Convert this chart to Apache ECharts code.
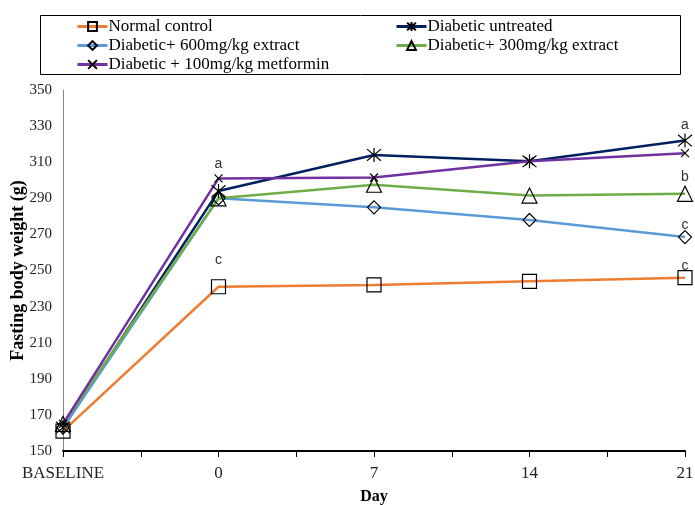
<!DOCTYPE html>
<html>
<head>
<meta charset="utf-8">
<script src="https://cdn.jsdelivr.net/npm/echarts@6/dist/echarts.min.js"></script>
<style>html,body{margin:0;padding:0;background:#fff;}#chart{width:695px;height:505px;}</style>
</head>
<body>
<div id="chart"></div>
<script>
// ---- data ----
const categories = ['BASELINE', '0', '7', '14', '21'];
const minorTickSlots = ['', '', '', '', '', '', '', '', ''];
const normalControl = [161, 241, 242, 244, 246];
const diabeticUntreated = [163, 294, 314, 310.5, 322];
const extract600 = [163, 290, 285, 278, 268.5];
const extract300 = [165, 290, 297.5, 291.5, 292.5];
const metformin100 = [165, 301, 301.5, 310.5, 315];
// significance letters per series (by category index)
const normalLetters = ['', 'c', '', '', 'c'];
const untreatedLetters = ['', '', '', '', 'a'];
const ext600Letters = ['', '', '', '', 'c'];
const ext300Letters = ['', '', '', '', 'b'];
const metforminLetters = ['', 'a', '', '', ''];
const seriesNames = ['Normal control', 'Diabetic untreated', 'Diabetic+ 600mg/kg extract', 'Diabetic+ 300mg/kg extract', 'Diabetic + 100mg/kg metformin'];

const serif = '"Liberation Serif", "Times New Roman", serif';
const sans = '"Liberation Sans", Arial, sans-serif';

function withLetters(values, letters, distances) {
  return values.map((v, i) => {
    if (!letters[i]) return v;
    return {
      value: v,
      label: {
        show: true, formatter: letters[i], position: 'top',
        distance: distances[i], offset: [0, 6], fontFamily: sans, fontSize: 14, color: '#333'
      }
    };
  });
}

const starPath = 'path://M1,1L11,11M11,1L1,11M6,0L6,12';
const xPath = 'path://M0,0L10,10M10,0L0,10';

function makeSeries(name, data, color, symbol, size) {
  return {
    name: name, type: 'line', data: data, color: color,
    symbol: symbol, symbolSize: size, showAllSymbol: true,
    lineStyle: { color: color, width: 2.5 },
    itemStyle: { color: 'none', borderColor: '#000', borderWidth: 1.2 },
    emphasis: { disabled: true },
    z: 3
  };
}

const chart = echarts.init(document.getElementById('chart'), null, { renderer: 'canvas' });

function legendItem(name, left, top) {
  return {
    data: [name], left: left, top: top, padding: 0,
    itemWidth: 30, itemHeight: 11, itemGap: 0,
    lineStyle: { width: 3 },
    textStyle: { fontFamily: serif, fontSize: 17, color: '#000', padding: [0, 0, 0, -4] },
    selectedMode: false
  };
}

const option = {
  animation: false,
  backgroundColor: '#fff',
  graphic: [{
    type: 'rect', shape: { x: 40.5, y: 15.5, width: 640, height: 59 },
    style: { fill: 'none', stroke: '#000', lineWidth: 1 }, silent: true
  }],
  legend: [
    legendItem(seriesNames[0], 76, 18),
    legendItem(seriesNames[1], 395, 18),
    legendItem(seriesNames[2], 76, 37),
    legendItem(seriesNames[3], 395, 37),
    legendItem(seriesNames[4], 76, 56)
  ],
  grid: { left: 63, right: 10, top: 90, bottom: 54, containLabel: false, outerBoundsMode: 'none' },
  xAxis: [{
    type: 'category', data: categories, boundaryGap: false,
    axisLine: { lineStyle: { color: '#000', width: 2 } },
    axisTick: { show: true, length: 6, lineStyle: { color: '#000', width: 1 } },
    axisLabel: { fontFamily: serif, fontSize: 17, color: '#222', margin: 14 },
    name: 'Day', nameLocation: 'middle', nameGap: 38,
    nameTextStyle: { fontFamily: serif, fontSize: 16, fontWeight: 'bold', color: '#000' },
    splitLine: { show: false }
  }, {
    type: 'category', data: minorTickSlots, boundaryGap: false, position: 'bottom',
    axisLine: { show: false },
    axisTick: { show: true, length: 6, lineStyle: { color: '#000', width: 1 } },
    axisLabel: { show: false }, splitLine: { show: false }
  }],
  yAxis: {
    type: 'value', min: 150, max: 350, interval: 20,
    axisLine: { show: true, lineStyle: { color: '#868686', width: 1 } },
    axisTick: { show: false },
    splitLine: { show: false },
    axisLabel: { fontFamily: serif, fontSize: 15, color: '#222', margin: 11 },
    name: 'Fasting body weight (g)', nameLocation: 'middle', nameGap: 36, nameMoveOverlap: false,
    nameTextStyle: { fontFamily: serif, fontSize: 18, fontWeight: 'bold', color: '#000' }
  },
  series: [
    makeSeries(seriesNames[0], withLetters(normalControl, normalLetters, [0, 16, 0, 0, 1]), '#ED7D31', 'rect', 14),
    makeSeries(seriesNames[1], withLetters(diabeticUntreated, untreatedLetters, [0, 0, 0, 0, 5]), '#002060', starPath, 14),
    makeSeries(seriesNames[2], withLetters(extract600, ext600Letters, [0, 0, 0, 0, 2]), '#5B9BD5', 'diamond', 13),
    makeSeries(seriesNames[3], withLetters(extract300, ext300Letters, [0, 0, 0, 0, 6]), '#70AD47', 'triangle', 15),
    makeSeries(seriesNames[4], withLetters(metformin100, metforminLetters, [0, 7, 0, 0, 0]), '#7030A0', xPath, 8)
  ]
};
chart.setOption(option);
</script>
</body>
</html>
